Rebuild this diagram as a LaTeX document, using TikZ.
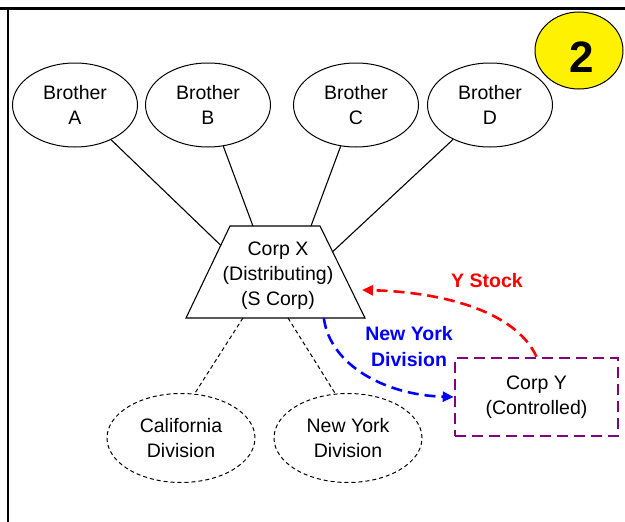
\documentclass[tikz,border=0pt]{standalone}
\usepackage{fontspec}
\setmainfont{Liberation Sans}
\usetikzlibrary{shapes.geometric,arrows.meta,calc}
\definecolor{dpurple}{RGB}{128,0,128}
\begin{document}
\begin{tikzpicture}[x=1pt,y=-1pt,
  lbl/.style={font=\fontsize{19.5}{25}\selectfont, align=center, inner sep=0pt},
  blbl/.style={font=\bfseries\fontsize{19.5}{26}\selectfont, align=center, inner sep=0pt},
  person/.style={ellipse, draw, line width=1pt, minimum width=125pt, minimum height=84pt, inner sep=0pt, lbl},
  division/.style={ellipse, draw, line width=1pt, dash pattern=on 4pt off 3pt, minimum width=148pt, minimum height=89pt, inner sep=0pt, lbl},
  solidline/.style={line width=1.1pt},
  thindash/.style={line width=1pt, dash pattern=on 4pt off 3pt},
  thickdash/.style={line width=2.6pt, dash pattern=on 11pt off 6pt},
  arrowtip/.style={-{Triangle[length=11pt,width=10pt]}}
]
\useasboundingbox (0,0) rectangle (625,522);
% frame
\draw[line width=2.4pt] (0,8.5) -- (625,8.5);
\draw[line width=2.4pt] (8,8.5) -- (8,522);
% badge
\node[ellipse, draw, fill=yellow, line width=1pt, minimum width=88pt, minimum height=77pt, inner sep=0pt] (badge) at (579,50.5) {};
\node[font=\bfseries\fontsize{44}{44}\selectfont, inner sep=0pt] (two) at (582,57) {2};
% brothers
\node[person] (A) at (75,105) {Brother\\A};
\node[person] (B) at (208,105) {Brother\\B};
\node[person] (C) at (356,105) {Brother\\C};
\node[person] (D) at (490,105) {Brother\\D};
% Corp X trapezoid
\coordinate (tl) at (230,226);
\coordinate (tr) at (320,226);
\coordinate (br) at (365,318);
\coordinate (bl) at (186,318);
\draw[solidline] (tl) -- (tr) -- (br) -- (bl) -- cycle;
\node[lbl] (X) at (278,276) {Corp X\\(Distributing)\\(S Corp)};
\coordinate (pA) at ($(tl)!0.21!(bl)$);
\coordinate (pB) at ($(tl)!0.255!(tr)$);
\coordinate (pC) at ($(tl)!0.9!(tr)$);
\coordinate (pD) at ($(tr)!0.28!(br)$);
\coordinate (pCal) at ($(bl)!0.318!(br)$);
\coordinate (pNY) at ($(bl)!0.57!(br)$);
\coordinate (pBlue) at ($(bl)!0.77!(br)$);
\coordinate (pRed) at (362,290);
\draw[solidline] (A) -- (pA);
\draw[solidline] (B) -- (pB);
\draw[solidline] (C) -- (pC);
\draw[solidline] (D) -- (pD);
% divisions
\node[division] (Cal) at (181,438) {California\\Division};
\node[division] (NY) at (348,438) {New York\\Division};
\draw[thindash] (pCal) -- (Cal.73);
\draw[thindash] (pNY) -- (NY.106);
% Corp Y
\node[draw=dpurple, thickdash, minimum width=163pt, minimum height=78pt, lbl] (Y) at (536.5,397) {Corp Y\\(Controlled)};
% arrows
\draw[thickdash, red, arrowtip] (Y.north) .. controls (515,310) and (440,292) .. (pRed);
\draw[thickdash, blue, arrowtip] (pBlue) .. controls (330,365) and (385,395) .. (Y.west);
\node[blbl, text=red] (ys) at (487,281) {Y Stock};
\node[blbl, text=blue] (nyd) at (409,347) {New York\\Division};
\end{tikzpicture}
\end{document}
